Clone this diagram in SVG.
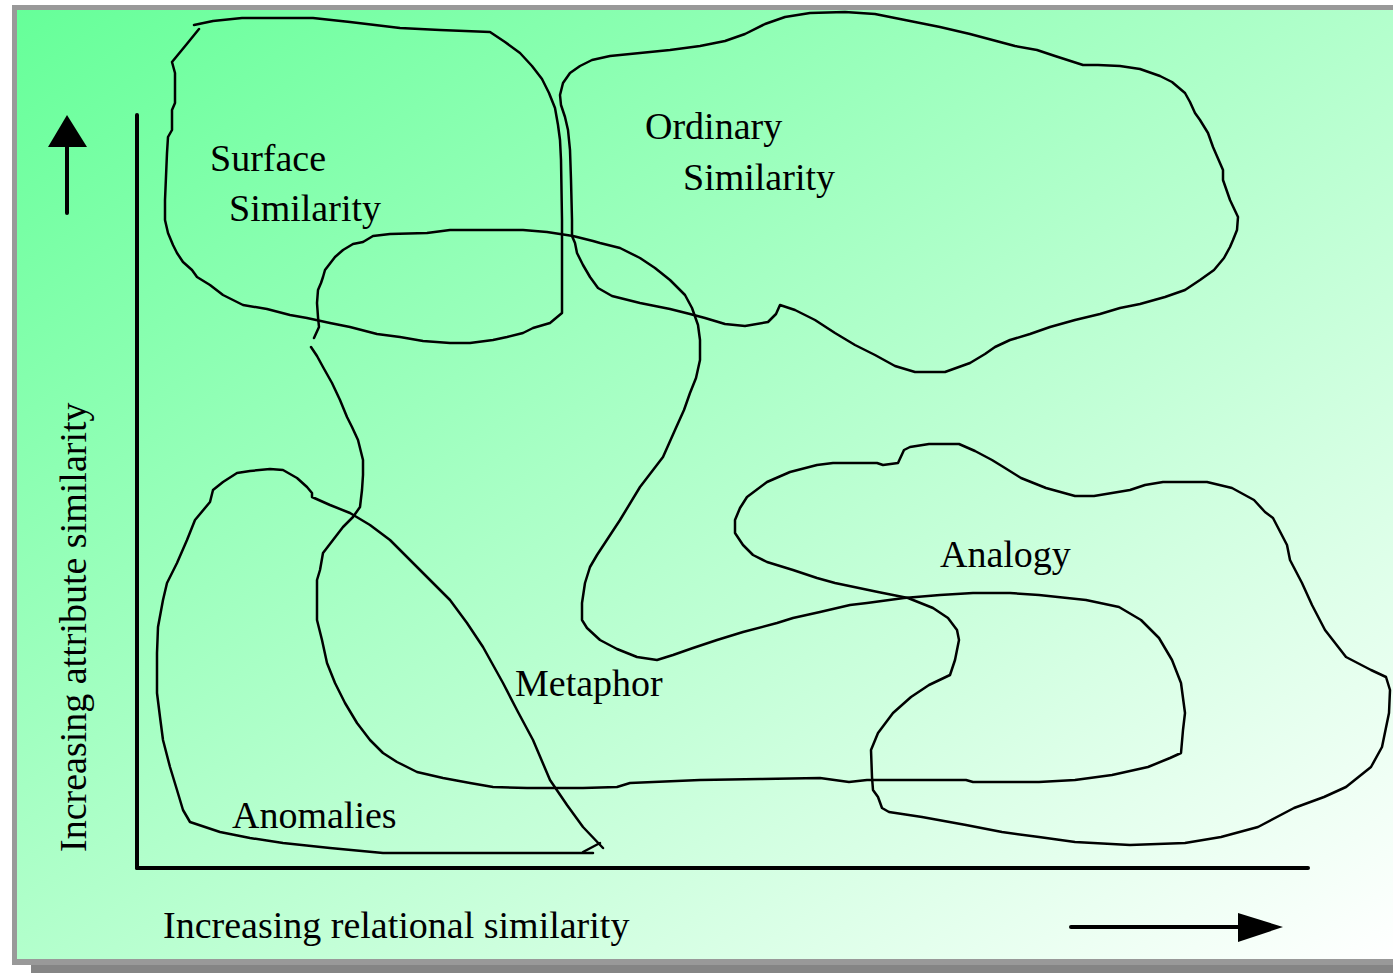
<svg xmlns="http://www.w3.org/2000/svg" width="1393" height="973" viewBox="0 0 1393 973">
<defs>
<linearGradient id="bg" x1="0" y1="0" x2="1" y2="1">
<stop offset="0" stop-color="#66ff99"/>
<stop offset="1" stop-color="#ffffff"/>
</linearGradient>
</defs>
<style>
.shape{fill:none;stroke:#000;stroke-width:2.5;stroke-linejoin:round;stroke-linecap:round}
.axis{fill:none;stroke:#000;stroke-width:4;stroke-linecap:round}
.lbl{font-family:"Liberation Serif","Times New Roman",serif;font-size:38px;fill:#000}
</style>
<g id="frame">
<rect x="31" y="962" width="1362" height="11" fill="#858585"/>
<rect x="12" y="5" width="1381" height="960" fill="#999999"/>
<rect x="17" y="10" width="1376" height="949" fill="url(#bg)"/>
</g>
<g id="axes">
<line class="axis" x1="137" y1="115" x2="137" y2="868"/>
<line class="axis" x1="137" y1="868" x2="1308" y2="868"/>
<line class="axis" x1="67" y1="213" x2="67" y2="140"/>
<polygon points="67,115 48,147 87,147" fill="#000"/>
<line class="axis" x1="1071" y1="927" x2="1245" y2="927"/>
<polygon points="1283,927 1238,913 1238,942" fill="#000"/>
</g>
<g id="surface">
<path class="shape" d="M199,29 L186,45 L172,62 L175,73 L175,103 L172,110 L172,130 L168,137 L167,153 L165,200 L165,220 L168,233 L173,245 L177,253 L183,262 L192,270 L197,277 L210,285 L223,295 L243,305 L267,309 L290,315 L307,318 L330,323 L350,327 L377,334 L400,337 L423,341 L450,343 L470,343 L493,340 L507,337 L523,333 L533,328 L550,323 L562,313 L562,220 L561,160 L560,140 L558,125 L555,108 L549,93 L542,79 L532,66 L520,53 L505,42 L490,32 L440,30 L400,28 L350,22 L313,18 L242,18 L213,21 L194,25"/>
<text class="lbl" x="210" y="171">Surface</text>
<text class="lbl" x="229" y="221">Similarity</text>
</g>
<g id="ordinary">
<path class="shape" d="M572,236 L572,220 L571,180 L570,150 L568,130 L565,117 L561,105 L560,95 L563,83 L570,73 L580,66 L592,60 L610,56 L640,53 L670,50 L700,46 L725,41 L745,34 L765,24 L785,17 L810,13 L845,12 L875,14 L905,20 L940,27 L970,34 L1000,42 L1015,46 L1037,50 L1055,56 L1083,65 L1098,65 L1120,66 L1140,69 L1160,76 L1172,82 L1185,93 L1190,102 L1195,113 L1200,120 L1208,133 L1213,147 L1223,170 L1223,180 L1230,200 L1238,217 L1237,230 L1233,240 L1230,247 L1224,258 L1214,270 L1200,280 L1185,290 L1165,297 L1140,304 L1120,308 L1100,314 L1075,320 L1050,327 L1030,334 L1010,340 L995,347 L985,354 L970,363 L945,372 L915,372 L895,366 L875,355 L855,345 L835,333 L815,320 L795,310 L780,305 L776,314 L768,322 L745,326 L725,324 L705,318 L690,314 L670,309 L640,303 L612,296 L598,288 L590,277 L583,265 L577,253 L575,243 Z"/>
<text class="lbl" x="645" y="139">Ordinary</text>
<text class="lbl" x="683" y="190">Similarity</text>
</g>
<g id="metaphor">
<path class="shape" d="M311,347 L317,356 L323,367 L332,383 L340,400 L347,417 L352,427 L358,440 L363,460 L363,475 L362,490 L360,507 L353,517 L343,527 L333,540 L323,553 L320,570 L317,580 L317,620 L322,640 L327,663 L335,683 L345,703 L357,723 L370,740 L383,753 L397,762 L417,772 L443,778 L470,783 L493,787 L527,788 L560,788 L583,788 L617,787 L630,783 L700,780 L760,779 L820,778 L849,782 L867,780 L966,780 L973,782 L1039,782 L1075,780 L1112,775 L1148,767 L1170,758 L1181,753 L1183,730 L1185,713 L1181,683 L1172,660 L1159,638 L1141,620 L1119,607 L1086,600 L1039,595 L1010,593 L973,593 L940,595 L904,598 L867,603 L850,605 L820,612 L793,618 L777,623 L743,632 L717,640 L693,648 L673,655 L657,660 L637,657 L617,649 L600,640 L587,628 L582,620 L582,603 L585,583 L590,567 L597,555 L620,520 L640,487 L663,457 L675,430 L684,410 L690,393 L696,378 L700,360 L700,340 L698,325 L692,308 L685,295 L670,280 L655,268 L640,258 L620,248 L600,243 L593,241 L573,236 L547,232 L523,230 L450,230 L427,233 L390,234 L373,236 L363,242 L353,244 L343,250 L335,257 L325,270 L323,277 L321,283 L318,290 L317,303 L318,317 L319,327 L314,338"/>
<text class="lbl" x="515" y="696">Metaphor</text>
</g>
<g id="anomalies">
<path class="shape" d="M603,848 L583,827 L567,805 L550,780 L533,740 L518,712 L503,683 L493,665 L483,647 L467,623 L450,600 L433,583 L417,567 L403,553 L390,540 L370,525 L350,513 L330,505 L312,497 L312,493 L307,487 L297,478 L283,470 L270,469 L250,471 L237,473 L223,482 L213,490 L210,502 L195,520 L187,540 L177,563 L167,583 L163,600 L158,627 L157,653 L157,693 L160,717 L163,740 L170,767 L177,790 L183,810 L190,822 L220,832 L250,838 L283,843 L330,848 L383,853 L593,853"/>
<path class="shape" d="M583,852 L600,843"/>
<text class="lbl" x="232" y="828">Anomalies</text>
</g>
<g id="analogy">
<path class="shape" d="M898,463 L904,450 L910,447 L929,444 L959,444 L975,451 L992,460 L1005,468 L1021,478 L1046,488 L1075,496 L1094,496 L1112,493 L1130,490 L1145,485 L1163,482 L1207,482 L1232,488 L1254,500 L1265,512 L1273,518 L1287,545 L1290,560 L1302,583 L1312,605 L1325,630 L1346,657 L1371,670 L1386,677 L1390,690 L1389,713 L1382,747 L1371,767 L1346,787 L1324,797 L1294,808 L1258,827 L1221,837 L1185,843 L1130,845 L1075,842 L1039,837 L1002,832 L966,825 L922,817 L889,812 L882,808 L878,797 L873,790 L872,777 L871,750 L878,733 L893,713 L911,697 L929,685 L950,675 L955,660 L959,640 L957,630 L948,618 L933,608 L908,598 L878,592 L835,583 L817,578 L793,570 L767,562 L753,555 L743,545 L735,533 L735,520 L740,508 L747,497 L767,482 L790,472 L817,465 L833,463 L877,463 L883,465 Z"/>
<text class="lbl" x="940" y="567">Analogy</text>
</g>
<g id="axis-labels">
<text class="lbl" x="163" y="938">Increasing relational similarity</text>
<text class="lbl" transform="translate(86,852) rotate(-90)">Increasing attribute similarity</text>
</g>
</svg>
